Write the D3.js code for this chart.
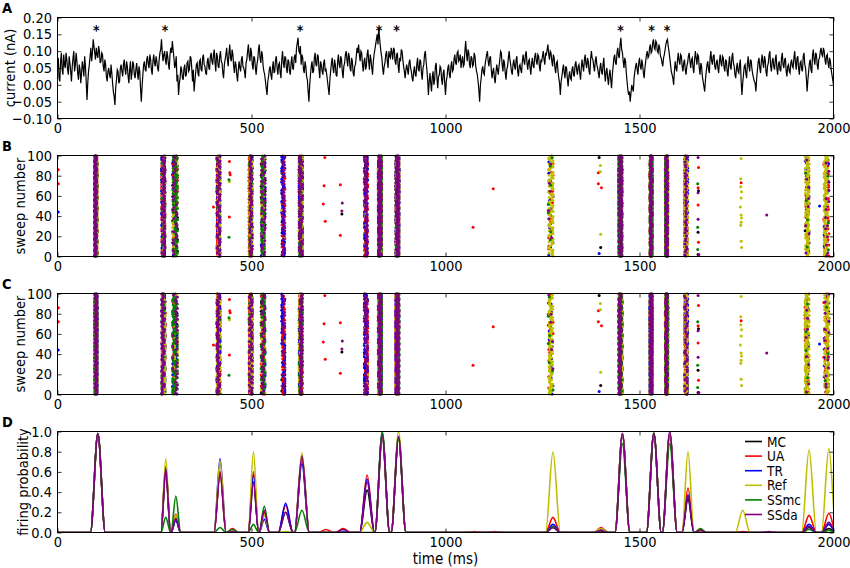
<!DOCTYPE html>
<html>
<head>
<meta charset="utf-8">
<script src="https://cdn.jsdelivr.net/npm/d3@7"></script>
<style>
  body { margin: 0; background: #fff; }
  svg { font-family: "DejaVu Sans Condensed", "DejaVu Sans", sans-serif; }
</style>
</head>
<body>
<svg id="chart" width="850" height="568"></svg>
<script>
// ---- data ----
var models = ["MC", "UA", "TR", "Ref", "SSmc", "SSda"];
var colors = ["#000000", "#ff0000", "#0000ff", "#bfbf00", "#008000", "#800080"];

var xTicks = [0, 500, 1000, 1500, 2000];
var currentTicks = [-0.10, -0.05, 0, 0.05, 0.10, 0.15, 0.20];
var sweepTicks = [0, 20, 40, 60, 80, 100];
var probTicks = [0, 0.2, 0.4, 0.6, 0.8, 1.0];

// panel A: injected current in pA, samples at t = 0, 4, 8 ... ms
var currentEven = [
  55,20,70,45,90,50,75,30,65,10,80,40,95,35,60,5,70,25,55,-45,40,85,70,135,95,
  110,80,100,70,90,40,60,10,50,20,35,-20,-60,15,40,10,60,25,75,30,55,5,70,35,60,
  20,65,15,40,-50,30,70,40,85,50,75,30,90,55,70,40,95,135,70,100,60,85,45,110,130,
  80,60,10,-30,20,45,15,60,30,70,45,80,10,-20,35,65,25,75,40,90,55,30,80,45,95,
  60,105,40,85,50,100,65,20,75,110,55,120,70,90,35,60,10,70,40,85,50,20,75,120,70,
  95,45,80,30,75,120,65,90,40,10,-30,25,55,15,70,40,85,30,65,20,100,50,80,35,70,
  30,85,45,90,110,140,95,60,80,35,55,15,-50,30,70,40,95,55,85,20,60,30,75,45,10,
  -30,40,80,35,60,25,90,50,75,20,65,100,55,85,40,70,25,60,110,120,70,95,40,80,55,
  105,45,75,30,90,120,150,170,115,80,30,65,100,50,85,110,75,105,60,95,35,70,100,55,20,
  60,30,75,40,10,55,25,80,40,70,15,60,100,45,-30,35,-20,40,15,65,-10,30,50,0,45,
  -30,25,60,20,70,45,90,60,100,75,50,85,60,130,70,95,50,80,60,85,40,10,-50,20,55,
  30,75,100,55,85,20,50,5,60,30,75,95,40,65,15,55,100,60,30,75,45,85,25,60,35,
  90,60,100,45,75,30,80,50,95,60,85,40,70,100,60,90,120,75,95,55,80,35,70,20,-30,
  25,60,20,50,-5,40,15,55,25,70,30,60,15,75,40,90,50,70,30,100,75,40,85,50,20,
  65,30,80,10,50,0,45,-10,55,90,60,110,80,140,95,50,70,10,-30,-50,0,-20,40,65,30,
  80,45,60,20,70,100,85,120,100,135,105,125,95,110,80,55,90,120,135,100,60,30,0,70,40,
  95,60,85,40,75,30,65,95,50,80,35,100,60,85,30,55,10,-20,40,70,35,100,60,90,45,
  75,35,90,55,80,40,70,25,85,45,95,55,20,65,35,75,-30,30,60,20,85,40,70,30,10,
  -20,45,80,35,90,50,75,25,65,100,40,80,45,90,30,70,40,95,50,80,25,60,35,75,50,
  100,45,85,30,70,40,95,50,-20,40,75,35,105,60,90,45,80,110,85,100,60,90,50,70,30,
  0
];
// samples at t = 2, 6, 10 ... ms
var currentOdd = [
  80,10,95,30,60,95,45,85,40,55,100,60,70,15,45,35,50,85,10,5,60,110,95,115,75,
  90,115,65,95,55,75,25,40,30,60,5,-35,-10,45,5,50,40,60,45,70,25,45,15,70,30,
  45,35,55,-10,-5,60,45,75,60,90,45,70,65,85,50,75,105,95,90,75,100,60,90,95,105,
  50,85,30,5,55,20,50,25,65,40,85,50,45,10,60,35,70,45,80,60,35,70,50,85,70,
  90,65,95,55,85,70,35,60,90,75,95,80,105,55,70,30,45,50,75,55,40,65,100,85,110,
  60,85,50,60,105,80,100,55,30,-10,10,45,30,50,35,75,50,60,35,75,65,85,50,75,40,
  65,50,80,65,125,100,115,90,45,70,25,-20,0,55,35,80,60,90,45,70,40,65,40,30,-10,
  15,65,50,75,30,70,60,85,40,55,90,75,95,50,80,35,55,85,95,90,100,60,70,45,90,
  70,90,50,70,105,135,120,140,95,50,55,90,70,100,80,95,110,70,90,55,80,105,75,40,45,
  45,65,50,20,40,30,60,45,75,35,50,90,70,15,10,5,25,0,55,20,25,55,15,35,5,
  10,50,30,55,40,75,65,95,70,90,70,55,100,95,105,60,85,55,95,55,30,-15,0,45,35,
  60,90,70,80,45,40,20,35,45,55,100,60,75,35,45,80,75,40,60,55,75,40,55,45,70,
  70,90,65,70,50,65,55,85,70,90,55,75,85,75,95,105,90,100,70,90,50,65,40,5,10,
  45,35,55,20,25,20,45,30,60,45,55,35,50,55,75,60,80,40,75,80,55,70,60,35,50,
  40,60,35,40,20,30,15,30,80,65,95,85,120,105,70,80,35,-15,-20,-25,-10,20,55,45,65,
  55,75,35,50,90,80,110,95,125,110,130,100,120,85,65,80,105,130,115,80,40,20,40,50,75,
  70,90,55,65,45,55,85,70,75,50,75,80,90,50,65,25,-5,15,60,45,80,70,85,55,65,
  50,70,65,85,50,75,40,60,55,80,65,30,50,40,60,10,5,55,35,60,55,75,45,20,5,
  20,70,50,70,65,85,40,55,90,55,70,55,75,50,60,45,80,60,75,40,55,40,65,55,80,
  65,80,50,65,45,85,60,20,15,65,45,90,75,95,60,75,100,90,110,75,85,65,80,45,15
];
var starTimes = [100, 277, 625, 829, 874, 1451, 1531, 1571];
var starLevel = 0.168;

// panel D: firing probability peaks per model
var peakTimes = [104,279,305,419,451,505,533,588,630,692,736,798,837,879,1075,1127,1277,1401,1456,1537,1578,1625,1657,1766,1833,1937,1988];
var peakMC   = [0.98,0.60,0.13,0.60,0.00,0.50,0.20,0.20,0.75,0.00,0.00,0.42,0.98,0.95,0.00,0.00,0.05,0.02,0.97,0.98,0.98,0.33,0.01,0.00,0.00,0.05,0.04];
var peakUA   = [0.98,0.62,0.18,0.60,0.04,0.60,0.20,0.27,0.73,0.03,0.04,0.57,0.96,0.95,0.01,0.01,0.15,0.05,0.98,0.98,0.98,0.44,0.03,0.01,0.00,0.17,0.19];
var peakTR   = [0.98,0.65,0.12,0.73,0.01,0.57,0.13,0.29,0.68,0.00,0.01,0.53,0.96,0.95,0.00,0.00,0.08,0.03,0.97,0.98,0.98,0.37,0.01,0.00,0.00,0.08,0.08];
var peakRef  = [0.98,0.73,0.17,0.71,0.01,0.80,0.17,0.01,0.79,0.00,0.00,0.10,0.95,1.00,0.00,0.00,0.80,0.04,0.98,0.98,0.98,0.80,0.01,0.22,0.00,0.82,0.83];
var peakSSmc = [0.98,0.15,0.36,0.05,0.03,0.08,0.26,0.00,0.22,0.00,0.00,0.00,1.00,0.93,0.00,0.00,0.06,0.01,0.88,0.99,0.88,0.00,0.04,0.00,0.00,0.03,0.02];
var peakSSda = [0.98,0.63,0.14,0.58,0.01,0.50,0.22,0.20,0.76,0.00,0.03,0.50,0.95,0.95,0.00,0.00,0.05,0.02,0.98,0.98,1.00,0.35,0.02,0.00,0.01,0.06,0.10];
var peaks = [peakMC, peakUA, peakTR, peakRef, peakSSmc, peakSSda];

// panels B/C: dense spike columns (time, matching peak, jitter in ms, count gain)
var rasterTimes  = [99,273,303,415,498,530,582,627,795,831,876,1271,1451,1530,1570,1620,1932,1982];
var rasterPeak   = [0,1,2,3,5,6,7,8,11,12,13,16,18,19,20,21,25,26];
var rasterSpread = [3,4,6,4,4,5,4,4,4,4,4,6,4,3,3,4,5,6];
var rasterGain   = [1,1.15,2.2,1.1,1.2,1.8,1.5,1.1,1.15,1,1,1.15,1,1,1,1.3,1.4,1.4];
// isolated spikes: [time, sweep, model]
var sparseDots = [
  [2,86,1],[2,72,1],[2,44,2],[402,49,1],
  [443,94,1],[444,83,1],[445,81,1],[443,39,1],[442,76,4],[442,19,4],[443,74,3],
  [689,98,1],[687,70,1],[685,52,1],[690,35,1],[729,71,1],[729,21,1],[734,53,5],[733,45,5],[733,42,0],
  [1071,29,1],[1123,67,1],
  [1394,83,1],[1394,72,1],[1402,68,1],[1399,90,3],[1399,84,3],[1400,22,3],[1400,9,0],[1396,98,0],[1396,3,2],
  [1651,98,5],[1652,88,1],[1650,72,4],[1651,68,1],[1652,65,0],[1651,63,5],[1651,51,1],[1651,37,5],
  [1650,29,4],[1651,24,0],[1652,14,1],[1650,7,4],[1651,2,0],[1653,2,5],
  [1762,97,3],[1761,77,3],[1762,73,1],[1761,69,3],[1763,64,3],[1762,58,3],[1760,49,3],[1762,41,3],
  [1763,38,3],[1762,34,3],[1761,31,3],[1762,15,3],[1763,9,3],
  [1828,41,5],[1975,91,1],[1975,37,1],[1964,50,2]
];

// ---- drawing ----
var svg = d3.select("#chart");
var fontSize = 14.5;
var x = d3.scaleLinear().domain([0, 2000]).range([57.5, 833.5]);

function axes(top, bottom, y, yTicks, yFmt, yLabel, labelX, letter) {
  var g = svg.append("g");
  g.append("g").attr("transform", "translate(0," + bottom + ")")
    .call(d3.axisBottom(x).tickValues(xTicks).tickSize(-4).tickPadding(4).tickFormat(d3.format("d")));
  g.append("g").attr("transform", "translate(0," + top + ")")
    .call(d3.axisTop(x).tickValues(xTicks).tickSize(-4).tickFormat(""));
  g.append("g").attr("transform", "translate(" + x(0) + ",0)")
    .call(d3.axisLeft(y).tickValues(yTicks).tickSize(-4).tickPadding(5.5).tickFormat(yFmt));
  g.append("g").attr("transform", "translate(" + x(2000) + ",0)")
    .call(d3.axisRight(y).tickValues(yTicks).tickSize(-4).tickFormat(""));
  g.selectAll(".domain").remove();
  g.selectAll("g").attr("font-family", null);
  g.selectAll(".tick line").attr("stroke", "#000").attr("stroke-width", 0.8);
  g.selectAll(".tick text").attr("fill", "#000").attr("font-size", fontSize);
  g.append("rect")
    .attr("x", x(0)).attr("y", top)
    .attr("width", x(2000) - x(0)).attr("height", bottom - top)
    .attr("fill", "none").attr("stroke", "#000").attr("stroke-width", 1);
  g.append("text")
    .attr("transform", "translate(" + labelX + "," + (top + bottom) / 2 + ") rotate(-90)")
    .attr("text-anchor", "middle").attr("dominant-baseline", "central")
    .attr("font-size", fontSize).text(yLabel);
  g.append("text").attr("x", 2).attr("y", top - 5)
    .attr("font-size", 14.5).attr("font-weight", "bold").text(letter);
}

function clip(id, top, bottom) {
  svg.append("clipPath").attr("id", id).append("rect")
    .attr("x", x(0)).attr("y", top).attr("width", x(2000) - x(0)).attr("height", bottom - top);
}

// panel A
var trace = [];
currentEven.forEach(function(v, i){
  trace.push([i * 4, v]);
  if (i < currentOdd.length) trace.push([i * 4 + 2, currentOdd[i]]);
});
var yA = d3.scaleLinear().domain([-0.10, 0.20]).range([118.5, 17.5]);
clip("clipA", 17.5, 118.5);
svg.append("path")
  .datum(trace)
  .attr("clip-path", "url(#clipA)")
  .attr("fill", "none").attr("stroke", "#000").attr("stroke-width", 1.2)
  .attr("d", d3.line()
    .x(function(d){ return x(d[0]); })
    .y(function(d){ return yA(d[1] / 1000); }));
svg.selectAll("text.star")
  .data(starTimes)
  .enter()
  .append("text")
  .attr("class", "star")
  .attr("x", function(d){ return x(d); })
  .attr("y", yA(starLevel))
  .attr("dy", "0.5em")
  .attr("text-anchor", "middle")
  .attr("font-size", 14)
  .attr("font-weight", "bold")
  .attr("fill", "#000")
  .text("*");
axes(17.5, 118.5, yA, currentTicks, d3.format(".2f"), "current (nA)", 10, "A");

// panels B and C
function raster(top, bottom, seed, letter) {
  var y = d3.scaleLinear().domain([0, 100]).range([bottom, top]);
  var dots = [];
  models.forEach(function(name, m){
    rasterTimes.forEach(function(t, c){
      var p = peaks[m][rasterPeak[c]] * rasterGain[c];
      var n = Math.round(Math.min(1, p) * 100);
      for (var k = 0; k < 100; k++) {
        if ((k * 37 + m * 23 + c * 11 + seed * 41) % 100 < n) {
          var j = (k * k * 7 + k * 13 + m * 29 + c * 17 + seed * 5) % 11 - 5;
          dots.push({t: t + j / 5 * rasterSpread[c], s: k + 0.5, m: m});
        }
      }
    });
    sparseDots.forEach(function(d){
      if (d[2] === m) dots.push({t: d[0], s: d[1], m: m});
    });
  });
  clip("clip" + letter, top - 2, bottom + 2);
  svg.append("g").attr("clip-path", "url(#clip" + letter + ")")
    .selectAll("circle")
    .data(dots)
    .enter()
    .append("circle")
    .attr("cx", function(d){ return x(d.t); })
    .attr("cy", function(d){ return y(d.s); })
    .attr("r", 1.5)
    .attr("fill", function(d){ return colors[d.m]; });
  axes(top, bottom, y, sweepTicks, d3.format("d"), "sweep number", 20, letter);
}
raster(155.5, 256.5, 0, "B");
raster(293.5, 394.5, 1, "C");

// panel D
var yD = d3.scaleLinear().domain([0, 1]).range([532.5, 431.5]);
clip("clipD", 431.5, 532.5);
function bumpPoints(vals) {
  var pts = [[0, 0]];
  peakTimes.forEach(function(t, i){
    var w = 19;
    if (i > 0) w = Math.min(w, (t - peakTimes[i - 1]) / 2 - 0.5);
    if (i < peakTimes.length - 1) w = Math.min(w, (peakTimes[i + 1] - t) / 2 - 0.5);
    pts.push([t - w, 0], [t, vals[i]], [t + w, 0]);
  });
  pts.push([2020, 0]);
  return pts;
}
var lineD = d3.line()
  .x(function(d){ return x(d[0]); })
  .y(function(d){ return yD(d[1]); })
  .curve(d3.curveMonotoneX);
svg.append("g").attr("clip-path", "url(#clipD)")
  .selectAll("path")
  .data(peaks)
  .enter()
  .append("path")
  .attr("fill", "none")
  .attr("stroke", function(d, i){ return colors[i]; })
  .attr("stroke-width", 1.6)
  .attr("d", function(d){ return lineD(bumpPoints(d)); });
axes(431.5, 532.5, yD, probTicks, d3.format(".1f"), "firing probability", 23, "D");

var legend = svg.append("g").selectAll("g")
  .data(models)
  .enter()
  .append("g")
  .attr("transform", function(d, i){ return "translate(745," + (441.5 + i * 14.6) + ")"; });
legend.append("line")
  .attr("x1", 0).attr("x2", 17)
  .attr("stroke", function(d, i){ return colors[i]; })
  .attr("stroke-width", 1.6);
legend.append("text")
  .attr("x", 22).attr("dominant-baseline", "central")
  .attr("font-size", 13.5).text(function(d){ return d; });

svg.append("text")
  .attr("x", (x(0) + x(2000)) / 2).attr("y", 564)
  .attr("text-anchor", "middle").attr("font-size", 15)
  .text("time (ms)");
</script>
</body>
</html>
